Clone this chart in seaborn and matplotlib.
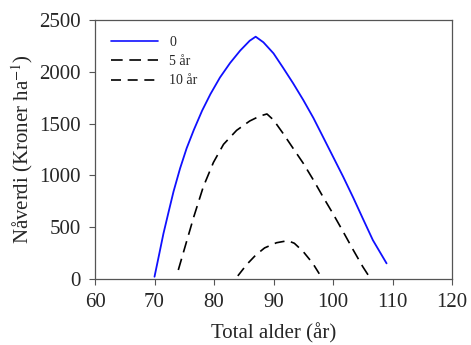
import numpy as np
import pandas as pd
import matplotlib
matplotlib.use("Agg")
import matplotlib.pyplot as plt
import seaborn as sns

# values
age_0 = [70.0, 70.7, 71.5, 72.4, 73.2, 74.3, 75.4, 76.6, 78.0, 79.4, 81.0, 82.7,
         84.4, 86.0, 87.0, 88.3, 90.0, 91.6, 93.3, 95.0, 96.7, 98.3, 100.0,
         101.7, 103.4, 105.0, 106.7, 109.0]
npv_0 = [22, 215, 438, 655, 845, 1068, 1262, 1438, 1625, 1785, 1945, 2085,
         2205, 2300, 2339, 2285, 2178, 2040, 1889, 1728, 1555, 1374, 1181,
         988, 785, 585, 375, 151]

age_5 = [74.0, 74.9, 76.6, 78.2, 79.9, 81.6, 83.8, 86.0, 87.7, 88.9,
         90.0, 91.6, 93.3, 95.0, 96.7, 98.3, 100.0, 101.7, 103.4, 105.0, 105.9]
npv_5 = [87, 265, 600, 890, 1125, 1300, 1435, 1525, 1573, 1593,
         1535, 1406, 1261, 1117, 956, 795, 630, 457, 280, 119, 39]

age_10 = [84.0, 85.5, 87.0, 88.5, 90.5, 92.4, 93.5, 95.0, 96.6, 98.0]
npv_10 = [30, 140, 230, 300, 350, 370, 345, 264, 151, 22]

labels = ["0", "5 år", "10 år"]

sns.set_style("white")
plt.rcParams['font.family'] = ['Liberation Serif', 'DejaVu Serif']
plt.rcParams['mathtext.fontset'] = 'stix'

fig = plt.figure(figsize=(4.71, 3.45), dpi=100)
ax = fig.add_axes([0.2017, 0.1913, 0.7580, 0.7507])

sns.lineplot(x=age_0, y=npv_0, ax=ax, color='#1010ff', lw=1.3, label=labels[0])
sns.lineplot(x=age_5, y=npv_5, ax=ax, color='black', lw=1.2, label=labels[1])
sns.lineplot(x=age_10, y=npv_10, ax=ax, color='black', lw=1.2, label=labels[2])
ax.lines[1].set_linestyle((0, (7, 4)))
ax.lines[2].set_linestyle((0, (6, 4)))

ax.set_xlim(60, 120)
ax.set_ylim(0, 2500)
ax.set_xticks(range(60, 121, 10))
ax.set_yticks(range(0, 2501, 500))
ax.tick_params(axis='both', which='major', labelsize=15, direction='out',
               length=4, width=0.8, color='#555555', bottom=True, left=True, pad=6)
for s in ax.spines.values():
    s.set_color('#555555')
    s.set_linewidth(0.9)

ax.set_xlabel('Total alder (år)', fontsize=15, labelpad=8)
ax.set_ylabel('Nåverdi (Kroner ha$^{-1}$)', fontsize=15, labelpad=3)

leg = ax.legend(loc='upper left', frameon=False, fontsize=10, handlelength=3.4,
                labelspacing=0.45, handletextpad=0.8,
                bbox_to_anchor=(0.0, 1.0), borderaxespad=0.75)
for h in leg.get_lines():
    h.set_linewidth(1.2)

plt.savefig('out.png', dpi=100)
